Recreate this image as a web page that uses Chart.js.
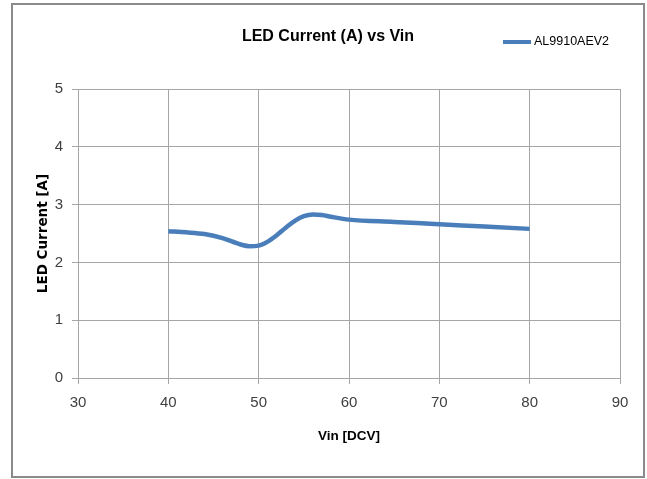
<!DOCTYPE html>
<html>
<head>
<meta charset="utf-8">
<script src="https://cdn.jsdelivr.net/npm/chart.js@4/dist/chart.umd.min.js"></script>
<style>
  body { margin: 0; background: #fff; }
  #frame {
    position: absolute; left: 11px; top: 3px;
    width: 630px; height: 471px;
    border: 2px solid #8a8a8a;
  }
</style>
</head>
<body>
<div id="frame"><canvas id="chart"></canvas></div>
<script>
const vinValues = [40, 42, 44, 46, 48, 49, 50, 51, 52, 53, 54, 55, 56, 57, 58, 60, 65, 70, 75, 80];
const currentValues = [2.54, 2.52, 2.49, 2.42, 2.31, 2.28, 2.29, 2.36, 2.47, 2.60, 2.72, 2.80, 2.83, 2.82, 2.79, 2.74, 2.70, 2.66, 2.62, 2.58];
const seriesName = "AL9910AEV2";
const chartTitle = "LED Current (A) vs Vin";
const xTicks = [30, 40, 50, 60, 70, 80, 90];
const yTicks = [0, 1, 2, 3, 4, 5];

const NARROW = "'Liberation Sans Narrow', 'Arial Narrow', 'Liberation Sans', sans-serif";
const GRID = "#a6a6a6";

let points = vinValues.map(function (v, i) {
    return { x: v, y: currentValues[i] };
});

// title and legend share one row, like the Excel original
const headerRow = {
    id: "headerRow",
    afterDraw(chart) {
        const ds = chart.data.datasets[0];
        const ctx = chart.ctx;
        ctx.save();
        ctx.fillStyle = "#000";
        ctx.textBaseline = "middle";
        ctx.textAlign = "center";
        ctx.font = "bold 16px " + NARROW;
        ctx.fillText(chartTitle, chart.width / 2, 32);

        ctx.strokeStyle = ds.borderColor;
        ctx.lineWidth = 4;
        ctx.beginPath();
        ctx.moveTo(490, 37);
        ctx.lineTo(518, 37);
        ctx.stroke();
        ctx.textAlign = "left";
        ctx.font = "12.5px " + NARROW;
        ctx.fillText(ds.label, 521, 37);
        ctx.restore();
    }
};

new Chart(document.getElementById("chart").getContext("2d"), {
    type: "line",
    data: {
        datasets: [
            {
                label: seriesName,
                data: points,
                borderColor: "#4a7ebb",
                borderWidth: 4.5,
                pointRadius: 0,
                cubicInterpolationMode: "monotone",
                fill: false,
            }
        ],
    },
    options: {
        responsive: true,
        maintainAspectRatio: false,
        animation: false,
        layout: { padding: { left: 0, right: 23, top: 84, bottom: 0 } },
        plugins: {
            legend: { display: false },
            tooltip: { enabled: false },
            title: { display: false },
        },
        scales: {
            x: {
                type: "linear",
                min: 30,
                max: 90,
                afterBuildTicks: function (scale) {
                    scale.ticks = xTicks.map(function (v) { return { value: v }; });
                },
                afterFit: function (scale) { scale.height = 98; },
                ticks: { color: "#404040", font: { family: NARROW, size: 15 }, padding: 10 },
                grid: { color: GRID, tickLength: 6 },
                border: { color: GRID },
                title: {
                    display: true,
                    text: "Vin [DCV]",
                    color: "#000",
                    font: { family: NARROW, size: 13.5, weight: "bold" },
                    padding: { top: 0, bottom: 32 },
                },
            },
            y: {
                min: 0,
                max: 5,
                afterBuildTicks: function (scale) {
                    scale.ticks = yTicks.map(function (v) { return { value: v }; });
                },
                afterFit: function (scale) { scale.width = 65; },
                ticks: { color: "#404040", font: { family: NARROW, size: 15 }, padding: 9 },
                grid: { color: GRID, tickLength: 6 },
                border: { color: GRID },
                title: {
                    display: true,
                    text: "LED Current [A]",
                    color: "#000",
                    font: { family: "'DejaVu Sans', sans-serif", size: 13.5, weight: "bold" },
                    padding: { top: 22, bottom: 0 },
                },
            },
        },
    },
    plugins: [headerRow],
});
</script>
</body>
</html>
